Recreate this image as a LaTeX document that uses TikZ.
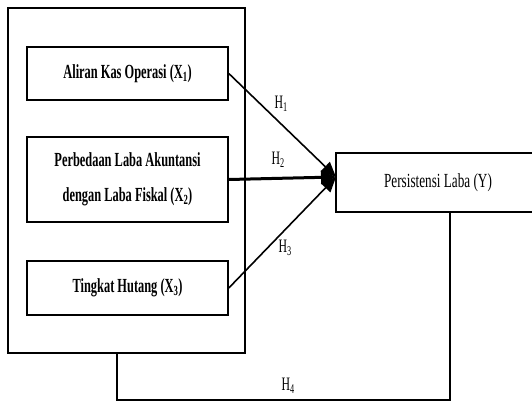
\documentclass[tikz,border=0pt]{standalone}
\usepackage{fontspec}
\setmainfont{Liberation Serif}
\usetikzlibrary{arrows.meta}
\newcommand{\squeeze}[1]{\scalebox{0.62}[1]{#1}}
\tikzset{
  varbox/.style={draw,line width=1.6pt,minimum width=201pt,minimum height=53pt,
    inner sep=0pt,align=center,font=\fontsize{20}{35}\selectfont\bfseries},
  hlabel/.style={font=\fontsize{19}{22}\selectfont},
  path/.style={line width=1.6pt,-{Triangle[length=15pt,width=13pt]}}
}
\begin{document}
\begin{tikzpicture}[x=1pt,y=-1pt]
  \useasboundingbox (0,0) rectangle (532,401);
  \node[draw,line width=1.6pt,minimum width=237pt,minimum height=345pt] (outer) at (126.5,180.5) {};
  \node[varbox] (x1) at (127.5,73.5) {\squeeze{Aliran Kas Operasi (X\textsubscript{1})}};
  \node[varbox,minimum height=85pt] (x2) at (127.5,179.5)
    {\squeeze{Perbedaan Laba Akuntansi}\\\squeeze{dengan Laba Fiskal (X\textsubscript{2})}};
  \node[varbox,minimum height=54pt] (x3) at (127.5,288) {\squeeze{Tingkat Hutang (X\textsubscript{3})}};
  \node[varbox,font=\fontsize{20}{24}\selectfont,minimum width=204pt,minimum height=59pt] (y) at (438,182.5)
    {\scalebox{0.66}[1]{Persistensi Laba (Y)}};
  \coordinate (tip) at (336,177);
  \draw[path] (x1.east) -- (tip);
  \draw[path,line width=3pt] (x2.east) -- (tip);
  \draw[path] (x3.east) -- (tip);
  \draw[line width=1.6pt] ([xshift=-9.5pt]outer.south) -- ++(0,46) -| ([xshift=12pt]y.south);
  \node[hlabel] (h1) at (281,104) {\squeeze{H\textsubscript{1}}};
  \node[hlabel] (h2) at (278,160) {\squeeze{H\textsubscript{2}}};
  \node[hlabel] (h3) at (285,248) {\squeeze{H\textsubscript{3}}};
  \node[hlabel] (h4) at (288,386) {\squeeze{H\textsubscript{4}}};
\end{tikzpicture}
\end{document}
